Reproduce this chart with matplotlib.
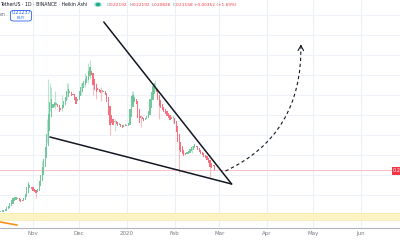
import numpy as np
import matplotlib
matplotlib.use("Agg")
import matplotlib.pyplot as plt
import matplotlib.dates as mdates
from matplotlib.path import Path
from matplotlib.patches import PathPatch, FancyBboxPatch
import datetime as dt

# daily heikin ashi closes, 2019-10-10 .. 2020-02-27
start_day = dt.date(2019, 10, 10)
closes = [
    0.1075, 0.1075, 0.11, 0.11, 0.1125, 0.1175, 0.12, 0.1275, 0.135, 0.14,
    0.1425, 0.1425, 0.14, 0.135, 0.1325, 0.135, 0.14, 0.15, 0.1675, 0.1775,
    0.1725, 0.165, 0.16, 0.1575, 0.155, 0.1625, 0.1825, 0.1975, 0.2175, 0.2375,
    0.2675, 0.30, 0.35, 0.38, 0.3875, 0.375, 0.38, 0.3775, 0.37, 0.3575,
    0.3625, 0.3725, 0.3825, 0.3925, 0.4075, 0.4125, 0.4075, 0.3975, 0.40, 0.3875,
    0.3775, 0.3875, 0.4075, 0.4175, 0.4275, 0.4325, 0.4375, 0.445, 0.4575, 0.4675,
    0.45, 0.425, 0.4125, 0.4075, 0.4125, 0.4075, 0.405, 0.41, 0.4075, 0.40,
    0.3825, 0.35, 0.325, 0.33, 0.325, 0.3325, 0.3275, 0.3225, 0.3275, 0.32,
    0.3175, 0.3225, 0.325, 0.3225, 0.3275, 0.3625, 0.395, 0.3975, 0.3925, 0.3775,
    0.3425, 0.33, 0.3425, 0.34, 0.335, 0.34, 0.345, 0.3575, 0.3875, 0.405,
    0.42, 0.4275, 0.4075, 0.3875, 0.3725, 0.3675, 0.3625, 0.3575, 0.3525, 0.3475,
    0.3425, 0.3375, 0.34, 0.3425, 0.3275, 0.3075, 0.2825, 0.2625, 0.2575, 0.2525,
    0.2475, 0.25, 0.255, 0.2575, 0.2625, 0.2675, 0.27, 0.275, 0.27, 0.2625,
    0.2575, 0.2525, 0.25, 0.245, 0.2425, 0.2375, 0.23, 0.22, 0.2175, 0.2225,
    0.2116,
]
# visible long wicks: candle index, high, low
wick_idx = [9, 19, 24, 28, 31, 32, 33, 34, 36, 41, 44, 45, 53, 56, 58, 59, 61,
            63, 66, 72, 75, 86, 87, 92, 100, 101, 104, 113, 117, 125, 137]
wick_high = [0.145, 0.185, 0.16, 0.235, 0.34, 0.44, 0.43, 0.42, 0.41, 0.40, 0.43, 0.43,
             0.43, 0.455, 0.48, 0.4875, 0.44, 0.43, 0.42, 0.33, 0.34, 0.41, 0.41,
             0.35, 0.43, 0.4375, 0.39, 0.35, 0.27, 0.275, 0.222]
wick_low = [0.13, 0.165, 0.1425, 0.20, 0.28, 0.30, 0.36, 0.37, 0.365, 0.36, 0.39, 0.40,
            0.40, 0.42, 0.43, 0.44, 0.40, 0.39, 0.385, 0.30, 0.31, 0.38, 0.38,
            0.32, 0.40, 0.41, 0.34, 0.33, 0.205, 0.255, 0.195]

last_price = 0.21158
month_ticks = ["2019-11-01", "2019-12-01", "2020-01-01", "2020-02-01",
               "2020-03-01", "2020-04-01", "2020-05-01", "2020-06-01"]
month_labels = ["Nov", "Dec", "2020", "Feb", "Mar", "Apr", "May", "Jun"]

# drawings (date, price)
upper_line = [("2019-12-17", 0.5825), ("2020-03-09", 0.1775)]
lower_line = [("2019-11-12", 0.295), ("2020-03-09", 0.1775)]
curve_pts = [("2020-03-05", 0.21), ("2020-04-24", 0.30), ("2020-04-23", 0.525)]
zone = (0.0875, 0.105)

GREEN = "#5bbf8c"
RED = "#f2586b"

fig = plt.figure(figsize=(4, 2.4), dpi=100)
ax = fig.add_axes([0, 12 / 240, 1, 228 / 240])

d0 = mdates.date2num(dt.date(2019, 11, 1))
ax.set_xlim(d0 - 21.4, d0 - 21.4 + 400 / 1.54)
ax.set_ylim(0.0675, 0.6375)

# grid
for t in month_ticks:
    ax.axvline(mdates.datestr2num(t), color="#eaf0f8", lw=0.8, zorder=0)
for p in np.arange(0.1, 0.62, 0.05):
    ax.axhline(p, color="#eef2f8", lw=0.8, zorder=0)

# zone + orange marker
ax.axhspan(zone[0], zone[1], color="#fdf4c6", zorder=1, lw=0)
ax.axhline(zone[0], color="#f6e9a6", lw=0.5, zorder=1)
ax.axhline(zone[1], color="#f6e9a6", lw=0.5, zorder=1)
ax.plot([d0 - 21.4, d0 - 10.4], [0.0825, 0.075], color="#f7931a", lw=1.2, zorder=2)

# heikin ashi candles
x = np.array([mdates.date2num(start_day) + i for i in range(len(closes))])
c = np.array(closes)
o = np.empty_like(c)
o[0] = c[0]
for i in range(1, len(c)):
    o[i] = (o[i - 1] + c[i - 1]) / 2
cols = [GREEN if c[i] >= o[i] else RED for i in range(len(c))]
lo = np.minimum(o, c)
hi = np.maximum(o, c)
ax.bar(x, hi - lo + 0.0015, bottom=lo, width=0.75, color=cols, alpha=0.85, lw=0, zorder=3)
for k, i in enumerate(wick_idx):
    ax.vlines(x[i], wick_low[k], wick_high[k], color=cols[i], alpha=0.4, lw=0.8, zorder=2)

# last price line
ax.axhline(last_price, color="#f7b8bf", lw=0.6, zorder=2)

# trend lines
for line in (upper_line, lower_line):
    xs = [mdates.datestr2num(a) for a, b in line]
    ys = [b for a, b in line]
    ax.plot(xs, ys, color="#131722", lw=1.1, zorder=5, solid_capstyle="round")

# dashed projection
verts = [(mdates.datestr2num(a), b) for a, b in curve_pts]
path = Path(verts, [Path.MOVETO, Path.CURVE3, Path.CURVE3])
ax.add_patch(PathPatch(path, fill=False, ls=(0, (3, 2.5)), lw=0.8, color="#131722", zorder=5))
tip = verts[-1]
ax.annotate("", xy=(tip[0], tip[1] + 0.008), xytext=(tip[0] - 0.05, tip[1] - 0.01),
            arrowprops=dict(arrowstyle="->,head_length=0.35,head_width=0.2", lw=0.8, color="#131722"),
            zorder=5)

# axes styling
for s in ["top", "left", "right"]:
    ax.spines[s].set_visible(False)
ax.spines["bottom"].set_color("#b2b5be")
ax.spines["bottom"].set_linewidth(0.8)
ax.set_xticks([mdates.datestr2num(t) for t in month_ticks])
ax.set_xticklabels(month_labels, fontsize=4.0, color="#787b86")
ax.tick_params(axis="x", length=0, pad=2.5)
ax.set_yticks([])

# header
def ftext(px, py, s, **kw):
    fig.text(px / 400, 1 - py / 240, s, va="center", **kw)

FS = 3.1
ftext(0, 4.5, "TetherUS · 1D · BINANCE · Heikin Ashi", fontsize=3.3, color="#131722")
fig.add_artist(plt.Circle((98 / 400, 1 - 4.5 / 240), 0.008, color="#b9ead8",
                          transform=fig.transFigure))
fig.add_artist(plt.Circle((98 / 400, 1 - 4.5 / 240), 0.0045, color="#22ab94",
                          transform=fig.transFigure))
for px, lab, val in [(107, "O", "0.22192"), (130, "H", "0.22192"),
                     (151.5, "L", "0.20826"), (173, "C", "0.21158")]:
    ftext(px, 4.5, lab, fontsize=FS, color="#787b86")
    ftext(px + 2.5, 4.5, val, fontsize=FS, color="#f23645")
ftext(194, 4.5, "+0.00352 (+1.69%)", fontsize=FS, color="#f23645")

ftext(0, 14.5, "en", fontsize=3.4, color="#787b86")
box = FancyBboxPatch((10.5 / 400, 1 - 21 / 240), 21 / 400, 10.5 / 240,
                     boxstyle="round,pad=0,rounding_size=0.008",
                     transform=fig.transFigure, fc="white", ec="#2962ff", lw=0.6)
fig.add_artist(box)
fig.text(21 / 400, 1 - 12.8 / 240, "0.21237", fontsize=3.4, color="#2962ff", ha="center", va="center")
fig.text(21 / 400, 1 - 18.3 / 240, "BUY", fontsize=3.0, color="#2962ff", ha="center", va="center")

# price label on the right edge (cut by the frame, as in the screenshot)
ftext(393, 170.5, "0.2", fontsize=3.6, color="white",
      bbox=dict(boxstyle="square,pad=0.3", fc="#f23645", ec="none"))

fig.savefig("out.png", dpi=100)
